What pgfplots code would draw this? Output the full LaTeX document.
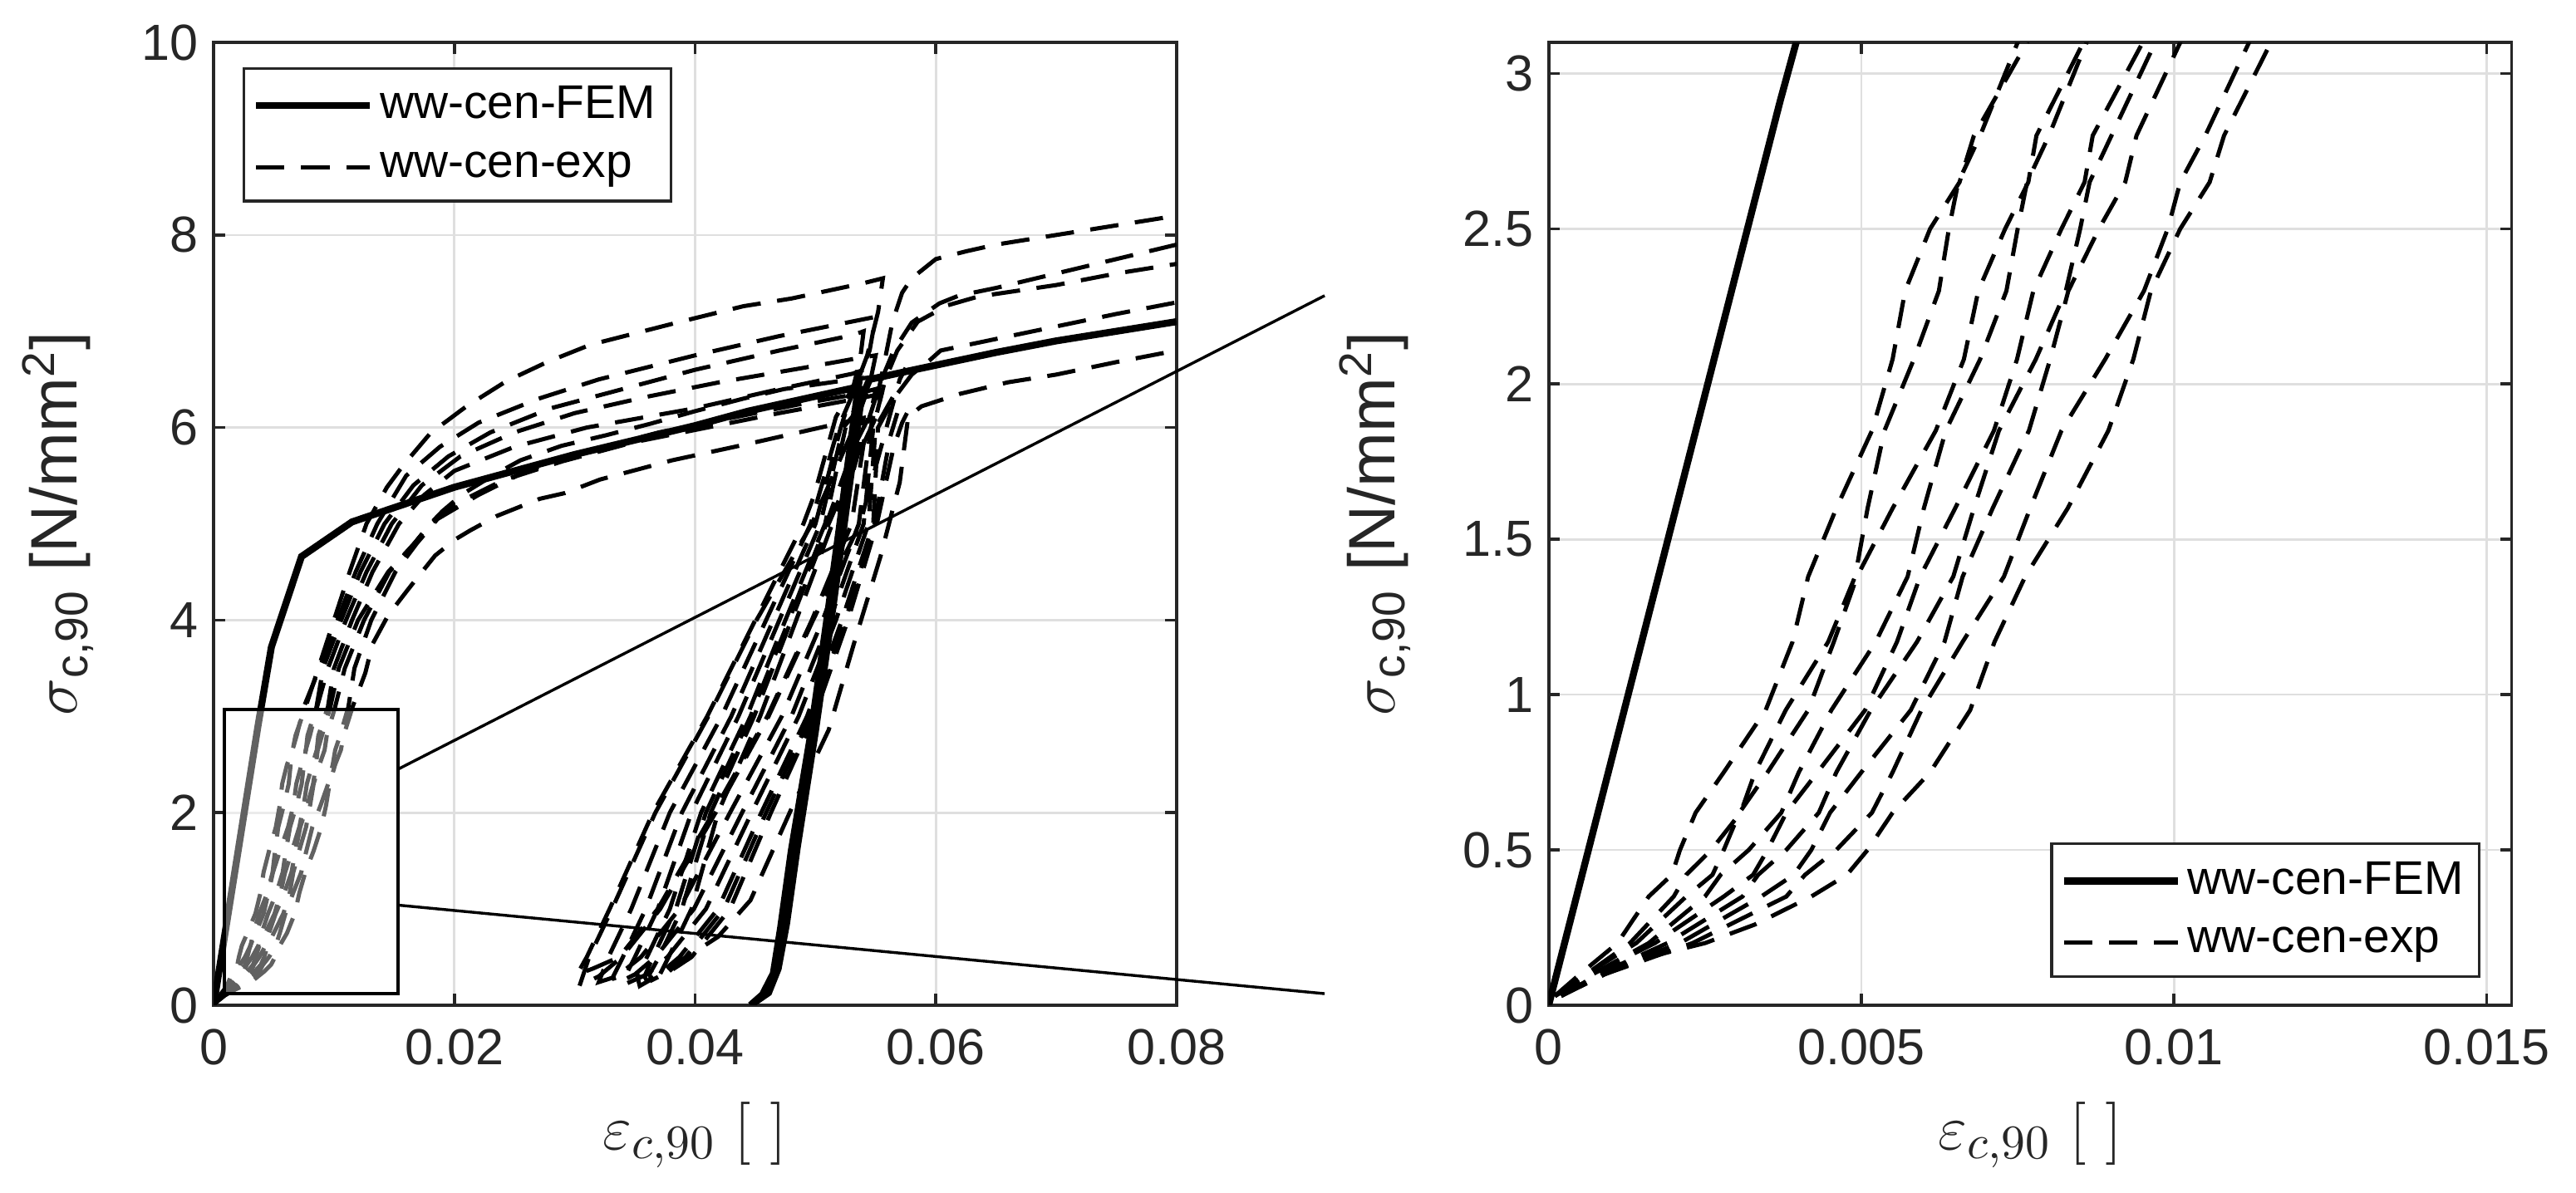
\documentclass[border=0pt]{standalone}
\usepackage[no-math]{fontspec}
\setmainfont{Liberation Sans}
\usepackage{pgfplots}
\usepackage{pgfplotstable}
\pgfplotsset{compat=1.18}

\definecolor{axgray}{HTML}{262626}
\definecolor{gridgray}{HTML}{DFDFDF}

% FEM curve: loading, unloading, reloading
\pgfplotstableread{
x y
0 0
0.0037 2.91
0.0048 3.72
0.0073 4.66
0.0115 5.02
0.0200 5.38
0.0300 5.72
0.0400 6.02
0.0444 6.17
0.0531 6.41
0.0536 6.46
0.0511 4.14
0.0496 2.81
0.0480 1.61
0.0471 0.80
0.0465 0.33
0.0456 0.11
0.0446 0.00
0.0461 0.13
0.0469 0.38
0.0476 0.85
0.0485 1.65
0.0500 2.85
0.0515 4.18
0.0538 6.30
0.0545 6.50
0.0582 6.60
0.0650 6.78
0.0700 6.90
0.0800 7.10
}\femtab

% experimental curves
\pgfplotstableread{
x y
0.0001 0.03
0.0005 0.10
0.0011 0.20
0.0016 0.35
0.00197 0.42
0.0021 0.50
0.00235 0.62
0.0028 0.75
0.00347 0.95
0.0039 1.17
0.00415 1.38
0.0046 1.60
0.00517 1.85
0.0055 2.08
0.0057 2.30
0.0061 2.50
0.00657 2.65
0.0068 2.80
0.00765 3.10
0.0087 3.50
0.0100 4.00
0.0113 4.50
0.0127 5.00
0.0144 5.38
0.0157 5.60
0.0180 5.94
0.0210 6.22
0.0243 6.48
0.0277 6.68
0.0313 6.86
0.0385 7.09
0.0440 7.26
0.0480 7.34
0.0540 7.50
0.0556 7.55
0.0552 7.20
0.0543 6.75
0.0531 6.35
0.0519 6.00
0.0496 5.00
0.0459 4.00
0.0422 3.00
0.0379 2.00
0.0347 1.00
0.0328 0.50
0.0320 0.24
0.0335 0.30
0.0355 0.50
0.0387 1.00
0.0429 2.00
0.0472 3.00
0.0506 4.00
0.0536 5.00
0.0546 6.00
0.0556 6.60
0.0564 7.10
0.0572 7.40
0.0580 7.55
0.0590 7.65
0.0600 7.75
0.0625 7.83
0.0650 7.90
0.0700 8.00
0.0750 8.10
0.0800 8.20
}\expA

\pgfplotstableread{
x y
0.0001 0.03
0.0006 0.10
0.0013 0.20
0.0020 0.35
0.0022 0.42
0.0026 0.50
0.00307 0.62
0.0033 0.75
0.00379 0.95
0.00447 1.17
0.0049 1.38
0.0051 1.60
0.00537 1.85
0.00584 2.08
0.00624 2.30
0.0064 2.50
0.00655 2.65
0.0069 2.80
0.0075 3.10
0.0088 3.50
0.0103 4.00
0.0118 4.50
0.0136 5.00
0.0160 5.50
0.0188 5.80
0.0220 6.05
0.0270 6.30
0.0320 6.50
0.0400 6.75
0.0470 6.95
0.0538 7.12
0.0550 7.15
0.0545 6.80
0.0535 6.50
0.0517 6.11
0.0499 5.30
0.0490 5.00
0.0450 4.00
0.0410 3.00
0.0365 2.00
0.0329 1.00
0.0310 0.50
0.0302 0.32
0.0315 0.38
0.0337 0.50
0.0369 1.00
0.0415 2.00
0.0460 3.00
0.0497 4.00
0.0530 5.00
0.0542 6.00
0.0555 6.50
0.0565 6.80
0.0580 7.09
0.0603 7.29
0.0619 7.37
0.0650 7.45
0.0700 7.60
0.0750 7.75
0.0800 7.90
}\expB

\pgfplotstableread{
x y
0.0001 0.03
0.0006 0.10
0.0014 0.20
0.0022 0.35
0.00262 0.42
0.0028 0.50
0.00305 0.62
0.0035 0.75
0.00415 0.95
0.00456 1.17
0.00493 1.38
0.0055 1.60
0.00619 1.85
0.00664 2.08
0.00687 2.30
0.0073 2.50
0.00767 2.65
0.0078 2.80
0.00855 3.10
0.0091 3.50
0.0106 4.00
0.0122 4.50
0.0142 5.00
0.0166 5.40
0.0195 5.70
0.0230 5.95
0.0280 6.20
0.0340 6.40
0.0400 6.60
0.0470 6.80
0.0531 6.96
0.0540 7.00
0.0537 6.70
0.0530 6.35
0.0521 6.00
0.0500 5.00
0.0465 4.00
0.0430 3.00
0.0389 2.00
0.0359 1.00
0.0340 0.50
0.0332 0.30
0.0334 0.22
0.0350 0.32
0.0367 0.50
0.0399 1.00
0.0439 2.00
0.0480 3.00
0.0512 4.00
0.0540 5.00
0.0548 6.00
0.0558 6.50
0.0568 6.80
0.0585 7.10
0.0610 7.27
0.0635 7.36
0.0700 7.48
0.0750 7.60
0.0800 7.70
}\expC

\pgfplotstableread{
x y
0.0001 0.03
0.0007 0.10
0.0016 0.20
0.0025 0.35
0.00275 0.42
0.0032 0.50
0.00372 0.62
0.0040 0.75
0.00452 0.95
0.00523 1.17
0.00574 1.38
0.0060 1.60
0.00635 1.85
0.0069 2.08
0.00732 2.30
0.0075 2.50
0.00765 2.65
0.0080 2.80
0.0086 3.10
0.0095 3.50
0.0110 4.00
0.0127 4.50
0.0148 5.00
0.0173 5.40
0.0205 5.70
0.0250 5.95
0.0300 6.15
0.0360 6.32
0.0420 6.47
0.0490 6.62
0.0535 6.72
0.0550 6.75
0.0545 6.45
0.0532 6.00
0.0497 5.00
0.0451 4.00
0.0411 3.00
0.0367 2.00
0.0331 1.00
0.0312 0.50
0.0304 0.20
0.0320 0.30
0.0339 0.50
0.0371 1.00
0.0417 2.00
0.0461 3.00
0.0498 4.00
0.0537 5.00
0.0559 6.00
0.0570 6.50
0.0575 6.62
}\expD

\pgfplotstableread{
x y
0.0001 0.03
0.0007 0.10
0.0017 0.20
0.0028 0.35
0.00327 0.42
0.0035 0.50
0.0038 0.62
0.0043 0.75
0.00506 0.95
0.00557 1.17
0.00594 1.38
0.0065 1.60
0.00712 1.85
0.00749 2.08
0.00775 2.30
0.0082 2.50
0.00857 2.65
0.0087 2.80
0.0095 3.10
0.0100 3.50
0.0115 4.00
0.0132 4.50
0.0154 5.00
0.0175 5.30
0.0200 5.55
0.0250 5.80
0.0310 6.00
0.0400 6.20
0.0470 6.40
0.0531 6.56
0.0540 6.60
0.0537 6.30
0.0525 6.00
0.0508 5.00
0.0475 4.00
0.0443 3.00
0.0405 2.00
0.0379 1.00
0.0360 0.50
0.0352 0.30
0.0354 0.20
0.0368 0.30
0.0387 0.50
0.0419 1.00
0.0455 2.00
0.0493 3.00
0.0522 4.00
0.0548 5.00
0.0552 6.00
0.0565 6.30
0.0580 6.55
0.0595 6.70
0.0604 6.80
0.0650 6.92
0.0700 7.05
0.0750 7.18
0.0800 7.30
}\expE

\pgfplotstableread{
x y
0.0002 0.03
0.0008 0.10
0.0019 0.20
0.0031 0.35
0.00335 0.42
0.0038 0.50
0.00432 0.62
0.0046 0.75
0.00515 0.95
0.00589 1.17
0.00647 1.38
0.0068 1.60
0.0072 1.85
0.00779 2.08
0.00827 2.30
0.0085 2.50
0.00865 2.65
0.0090 2.80
0.0097 3.10
0.0104 3.50
0.0120 4.00
0.0145 4.50
0.0167 4.80
0.0180 5.00
0.0190 5.13
0.0207 5.31
0.0233 5.51
0.0255 5.66
0.0289 5.81
0.0326 5.92
0.0363 6.04
0.0400 6.17
0.0440 6.30
0.0474 6.40
0.0530 6.50
0.0545 6.52
0.0540 6.25
0.0523 6.00
0.0504 5.00
0.0470 4.00
0.0436 3.00
0.0397 2.00
0.0369 1.00
0.0350 0.50
0.0342 0.30
0.0342 0.22
0.0360 0.32
0.0377 0.50
0.0409 1.00
0.0447 2.00
0.0486 3.00
0.0517 4.00
0.0544 5.00
0.0550 6.00
0.0568 6.40
}\expF

\pgfplotstableread{
x y
0.0002 0.03
0.0008 0.10
0.0021 0.20
0.0034 0.35
0.00392 0.42
0.0042 0.50
0.0045 0.62
0.0050 0.75
0.00579 0.95
0.00633 1.17
0.00662 1.38
0.0071 1.60
0.00768 1.85
0.00802 2.08
0.00831 2.30
0.0088 2.50
0.00922 2.65
0.0094 2.80
0.0101 3.10
0.0109 3.50
0.0125 4.00
0.0146 4.50
0.0167 4.80
0.0180 5.00
0.0200 5.20
0.0240 5.45
0.0290 5.65
0.0350 5.85
0.0410 6.00
0.0470 6.15
0.0535 6.30
0.0555 6.35
0.0550 6.10
0.0535 5.70
0.0511 5.00
0.0480 4.00
0.0449 3.00
0.0413 2.00
0.0389 1.00
0.0370 0.50
0.0362 0.32
0.0364 0.26
0.0380 0.36
0.0397 0.50
0.0429 1.00
0.0463 2.00
0.0499 3.00
0.0527 4.00
0.0551 5.00
0.0565 5.80
0.0572 6.05
0.0576 6.15
}\expG

\pgfplotstableread{
x y
0.0002 0.03
0.0009 0.10
0.0023 0.20
0.0038 0.35
0.0041 0.42
0.0046 0.50
0.00517 0.62
0.0055 0.75
0.00596 0.95
0.00662 1.17
0.00728 1.38
0.0077 1.60
0.0082 1.85
0.0089 2.08
0.00952 2.30
0.0099 2.50
0.0101 2.65
0.0105 2.80
0.0112 3.10
0.0117 3.50
0.0131 4.00
0.0151 4.50
0.0169 4.80
0.0186 5.05
0.0220 5.30
0.0260 5.55
0.0310 5.75
0.0370 5.95
0.0430 6.10
0.0490 6.25
0.0535 6.35
0.0550 6.40
0.0546 6.15
0.0532 5.80
0.0509 5.00
0.0478 4.00
0.0446 3.00
0.0409 2.00
0.0384 1.00
0.0365 0.50
0.0358 0.30
0.0360 0.25
0.0375 0.35
0.0392 0.50
0.0424 1.00
0.0459 2.00
0.0496 3.00
0.0525 4.00
0.0549 5.00
0.0562 5.90
0.0568 6.15
}\expH

\pgfplotstableread{
x y
0.0002 0.03
0.0009 0.10
0.0015 0.15
0.0025 0.20
0.0033 0.26
0.0042 0.35
0.00477 0.42
0.0051 0.50
0.0055 0.62
0.0061 0.75
0.00674 0.95
0.00713 1.17
0.00762 1.38
0.0083 1.60
0.00895 1.85
0.00935 2.08
0.00963 2.30
0.0101 2.50
0.01057 2.65
0.0108 2.80
0.01155 3.10
0.0126 3.45
0.0132 3.75
0.0145 4.05
0.0161 4.31
0.0175 4.53
0.0184 4.67
0.0201 4.84
0.0213 4.93
0.0235 5.08
0.0249 5.15
0.0271 5.26
0.0292 5.32
0.0321 5.46
0.0381 5.66
0.0444 5.83
0.0529 6.07
0.0540 6.10
0.0537 5.80
0.0528 5.40
0.0514 5.00
0.0484 4.00
0.0454 3.00
0.0419 2.00
0.0397 1.00
0.0378 0.50
0.0370 0.30
0.0372 0.28
0.0388 0.46
0.0419 0.71
0.0446 1.09
0.0480 2.04
0.0511 2.86
0.0533 3.80
0.0554 4.66
0.0570 5.43
0.0577 6.11
0.0588 6.22
0.0620 6.35
0.0660 6.47
0.0700 6.55
0.0750 6.68
0.0800 6.80
}\expI

\pgfplotsset{
  panel/.style={
    scale only axis, width=220pt, height=220pt,
    axis line style={axgray, line width=0.7pt},
    tick style={axgray, line width=0.7pt},
    major tick length=2.6pt,
    tick align=inside,
    grid=major,
    major grid style={gridgray, line width=0.5pt},
    scaled x ticks=false, scaled y ticks=false,
    ticklabel style={font=\fontsize{11.6}{13}\selectfont, text=axgray},
    xticklabel style={yshift=-2pt},
    label style={font=\fontsize{15}{17}\selectfont, text=axgray},
    xlabel style={at={(axis description cs:0.5,-0.135)}, anchor=center},
    legend style={font=\fontsize{10.8}{13}\selectfont, draw=axgray, line width=0.6pt,
      inner xsep=2pt, inner ysep=2.5pt, nodes={inner sep=1.5pt}, row sep=3pt},
    legend cell align=left,
    legend image code/.code={\draw[##1] (0pt,0pt) -- (26pt,0pt);},
  },
  fem/.style={black, line width=1.6pt},
  exp/.style={black, line width=0.95pt, dash pattern=on 6.5pt off 3.8pt},
}

\begin{document}
\begin{tikzpicture}
\useasboundingbox (-48.8pt,-42.9pt) rectangle (539.7pt,229.7pt);

\begin{axis}[panel,
  xmin=0, xmax=0.08, ymin=0, ymax=10,
  xtick={0,0.02,0.04,0.06,0.08}, xticklabels={0,0.02,0.04,0.06,0.08},
  ytick={0,2,4,6,8,10}, yticklabels={0,2,4,6,8,10},
  xlabel={$\varepsilon_{c,90}\ [\ ]$},
  ylabel={$\sigma$\textsubscript{c,90} [N/mm\textsuperscript{2}]},
  ylabel style={at={(axis description cs:-0.162,0.5)}, anchor=center},
  legend style={at={(axis description cs:0,1)}, anchor=north west, xshift=6.6pt, yshift=-5.7pt},
]
\addplot[fem] table {\femtab};
\addlegendentry{ww-cen-FEM}
\addplot[exp] table {\expA};
\addlegendentry{ww-cen-exp}
\addplot[exp, forget plot] table {\expB};
\addplot[exp, forget plot] table {\expC};
\addplot[exp, forget plot] table {\expD};
\addplot[exp, forget plot] table {\expE};
\addplot[exp, forget plot] table {\expF};
\addplot[exp, forget plot] table {\expG};
\addplot[exp, forget plot] table {\expH};
\addplot[exp, forget plot] table {\expI};
% zoom box
\draw[line width=0.8pt, fill=white, fill opacity=0.38] (axis cs:0.0009,0.12) rectangle (axis cs:0.0153,3.07);
\coordinate (a1) at (axis cs:0.0153,2.45);
\coordinate (a2) at (axis cs:0.0923,7.37);
\coordinate (b1) at (axis cs:0.0153,1.04);
\coordinate (b2) at (axis cs:0.0923,0.12);
\end{axis}
\draw[line width=0.65pt] (a1) -- (a2) (b1) -- (b2);

\begin{axis}[panel, at={(305pt,0pt)}, anchor=south west,
  xmin=0, xmax=0.0154, ymin=0, ymax=3.1,
  xtick={0,0.005,0.01,0.015}, xticklabels={0,0.005,0.01,0.015},
  ytick={0,0.5,1,1.5,2,2.5,3}, yticklabels={0,0.5,1,1.5,2,2.5,3},
  xlabel={$\varepsilon_{c,90}\ [\ ]$},
  ylabel={$\sigma$\textsubscript{c,90} [N/mm\textsuperscript{2}]},
  ylabel style={at={(axis description cs:-0.18,0.5)}, anchor=center},
  legend style={at={(axis description cs:1,0)}, anchor=south east, xshift=-7.2pt, yshift=6.3pt},
]
\addplot[fem] table {\femtab};
\addlegendentry{ww-cen-FEM}
\addplot[exp] table {\expA};
\addlegendentry{ww-cen-exp}
\addplot[exp, forget plot] table {\expB};
\addplot[exp, forget plot] table {\expC};
\addplot[exp, forget plot] table {\expD};
\addplot[exp, forget plot] table {\expE};
\addplot[exp, forget plot] table {\expF};
\addplot[exp, forget plot] table {\expG};
\addplot[exp, forget plot] table {\expH};
\addplot[exp, forget plot] table {\expI};
\end{axis}
\end{tikzpicture}
\end{document}
